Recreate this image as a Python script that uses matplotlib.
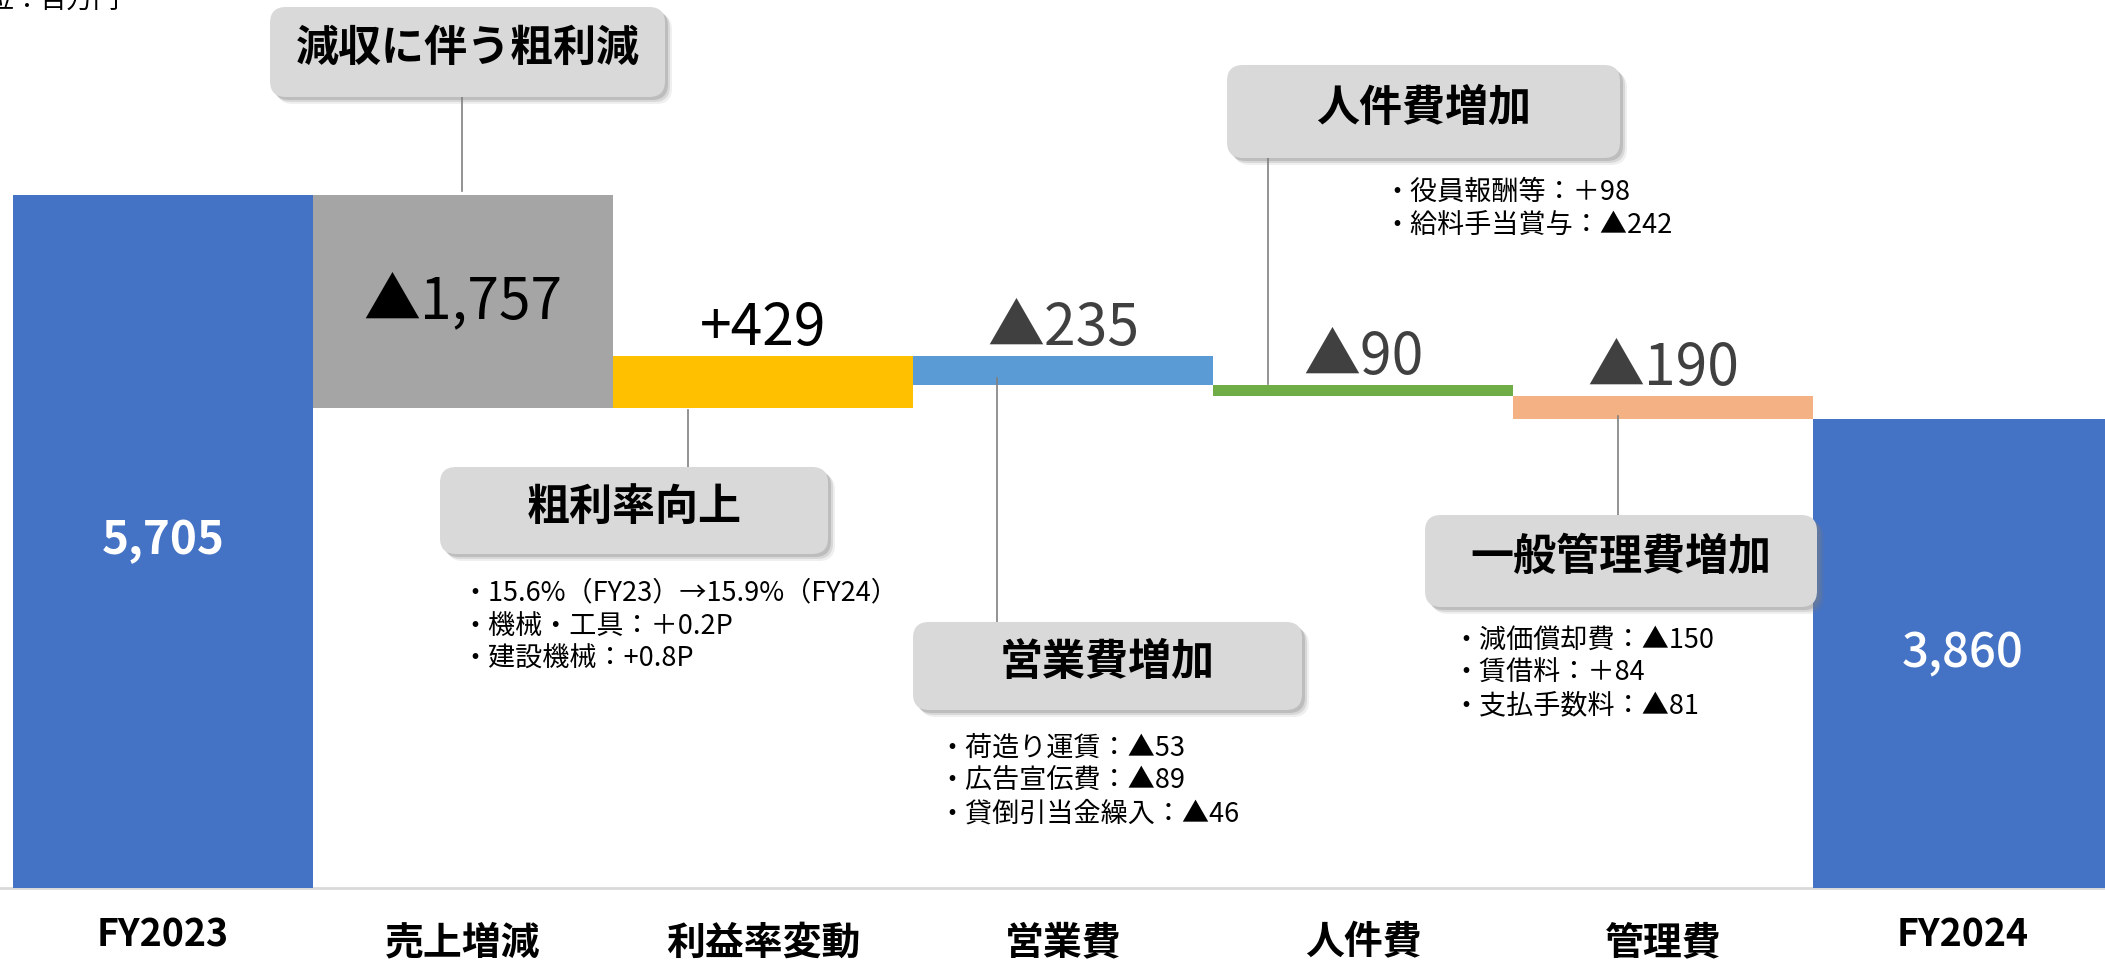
import matplotlib
matplotlib.use("Agg")
import matplotlib.pyplot as plt
from matplotlib.patches import FancyBboxPatch
from matplotlib.transforms import blended_transform_factory

plt.rcParams['font.family'] = ['Noto Sans CJK JP', 'DejaVu Sans']

# data (百万円)
categories = ['FY2023', '売上増減', '利益率変動', '営業費', '人件費', '管理費', 'FY2024']
values = [5705, -1757, 429, -235, -90, -190, 3860]
value_labels = ['5,705', '▲1,757', '+429', '▲235', '▲90', '▲190', '3,860']
bar_colors = ['#4472C4', '#A5A5A5', '#FFC000', '#5B9BD5', '#70AD47', '#F4B183', '#4472C4']

box_titles = ['減収に伴う粗利減', '粗利率向上', '営業費増加', '人件費増加', '一般管理費増加']
box_notes = [
    [],
    ['・15.6%（FY23）→15.9%（FY24）', '・機械・工具：＋0.2P', '・建設機械：+0.8P'],
    ['・荷造り運賃：▲53', '・広告宣伝費：▲89', '・貸倒引当金繰入：▲46'],
    ['・役員報酬等：＋98', '・給料手当賞与：▲242'],
    ['・減価償却費：▲150', '・賃借料：＋84', '・支払手数料：▲81'],
]

# layout in output pixels (2105 x 962)
W, H = 2105, 962
bar_left_px = 13
cat_px = 300
base_px = 888
unit_px = 693 / 5705

fig = plt.figure(figsize=(W / 100, H / 100 + 0.0001), dpi=100)
ax = fig.add_axes([0, 0, 1, 1])
x_left = -0.5 - bar_left_px / cat_px
ax.set_xlim(x_left, x_left + W / cat_px)
ax.set_ylim(-(H - base_px) / unit_px, base_px / unit_px)
ax.axis('off')

# pixel overlay for callouts
ov = fig.add_axes([0, 0, 1, 1], zorder=3)
ov.set_xlim(0, W)
ov.set_ylim(H, 0)
ov.axis('off')
ov.patch.set_alpha(0)

# waterfall bottoms / heights
bottoms = []
heights = []
running = 0
for i, v in enumerate(values):
    if i == 0 or i == len(values) - 1:
        bottoms.append(0)
        heights.append(v)
        running = v
    else:
        new = running + v
        bottoms.append(min(running, new))
        heights.append(abs(v))
        running = new

xs = list(range(len(categories)))
ax.axhline(0, xmin=0, xmax=1, color='#d9d9d9', lw=2, zorder=1)
ax.bar(xs, heights, bottom=bottoms, width=1.0, color=bar_colors, linewidth=0, zorder=2)

# value labels
for i in xs:
    lab = value_labels[i]
    if i == 0:
        ax.text(i, heights[i] / 2, lab, ha='center', va='center', color='white',
                fontsize=33, fontweight='bold', zorder=4)
    elif i == len(xs) - 1:
        ax.text(i, heights[i] / 2, lab, ha='center', va='center', color='white',
                fontsize=34, fontweight='medium', zorder=4)
    elif i == 1:
        ax.text(i, bottoms[i] + heights[i] / 2, lab, ha='center', va='center', color='black',
                fontsize=41, zorder=4)
    else:
        col = 'black' if values[i] > 0 else '#404040'
        ax.annotate(lab, (i, bottoms[i] + heights[i]), xytext=(0, 8), textcoords='offset points',
                    ha='center', va='baseline', color=col, fontsize=41, zorder=4)

# category labels
tr = blended_transform_factory(ax.transData, ov.transData)
for i, c in enumerate(categories):
    if c.startswith('FY'):
        ov.text(i, 935, c, transform=tr, ha='center', va='center', fontsize=27, fontweight='bold')
    else:
        ov.text(i, 943, c, transform=tr, ha='center', va='center', fontsize=28, fontweight='bold')

# callout boxes: (x0, y0, x1, y1), connector (x, y_from, y_to), notes (x, first y)
boxes = [(270, 7, 665, 97), (440, 467, 828, 554), (913, 622, 1302, 710),
         (1227, 65, 1620, 158), (1425, 515, 1817, 607)]
connectors = [(462, 97, 191), (688, 410, 467), (997, 378, 622), (1268, 158, 384), (1618, 416, 515)]
note_pos = [(0, 0), (461, 593), (938, 748), (1383, 192), (1452, 640)]
line_gap = 33

for k in range(len(boxes)):
    x0, y0, x1, y1 = boxes[k]
    cx, ya, yb = connectors[k]
    ov.plot([cx, cx], [ya, yb], color='#808080', lw=1.2, zorder=1)
    # soft shadow
    for off, a in [(7, 0.12), (5, 0.2), (3, 0.3)]:
        ov.add_patch(FancyBboxPatch((x0 + off, y0 + off), x1 - x0, y1 - y0,
                                    boxstyle='round,pad=0,rounding_size=16',
                                    fc='#7f7f7f', ec='none', alpha=a, zorder=2))
    ov.add_patch(FancyBboxPatch((x0, y0), x1 - x0, y1 - y0,
                                boxstyle='round,pad=0,rounding_size=16',
                                fc='#D9D9D9', ec='none', zorder=3))
    ov.text((x0 + x1) / 2, (y0 + y1) / 2 - 4, box_titles[k], ha='center', va='center',
            fontsize=31, fontweight='bold', color='black', zorder=4)
    nx, ny = note_pos[k]
    for j, line in enumerate(box_notes[k]):
        ov.text(nx, ny + j * line_gap, line, ha='left', va='center', fontsize=19.5,
                color='black', zorder=4)

# unit, cut off at the top edge (as in the source slide)
ov.text(120, 0, '単位：百万円', ha='right', va='center', fontsize=19, color='black')

fig.savefig('out.png', dpi=100)
